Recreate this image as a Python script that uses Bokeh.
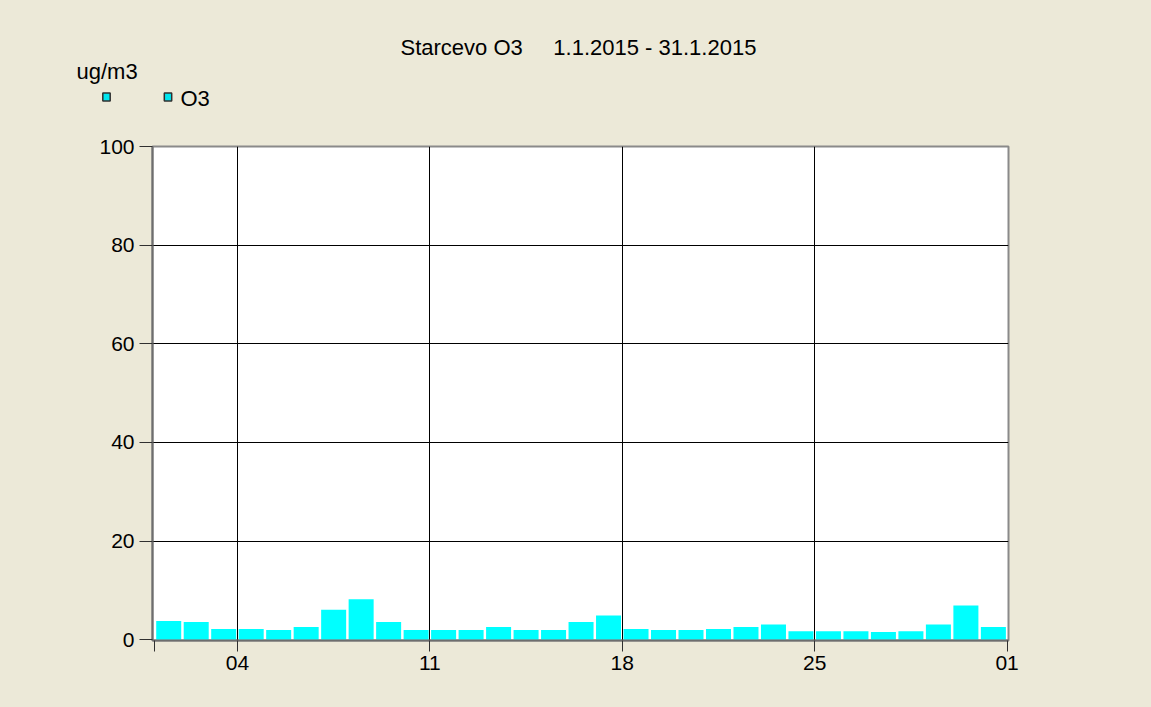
from bokeh.plotting import figure
from bokeh.models import Range1d, FixedTicker, Label
from bokeh.embed import file_html
from bokeh.resources import INLINE

# ---- data ----
days = list(range(1, 32))  # January 2015
o3 = [3.8, 3.6, 2.2, 2.2, 2.0, 2.6, 6.1, 8.2, 3.6, 2.0,
      2.0, 2.0, 2.6, 2.0, 2.0, 3.6, 4.9, 2.2, 2.0, 2.0,
      2.2, 2.6, 3.1, 1.75, 1.75, 1.75, 1.55, 1.75, 3.1, 6.95,
      2.6]
x_tick_pos = [0, 3, 10, 17, 24, 31]
x_tick_labels = ["", "04", "11", "18", "25", "01"]
y_ticks = [0, 20, 40, 60, 80, 100]
title_text = "Starcevo O3\u00a0\u00a0\u00a0\u00a0\u00a01.1.2015 - 31.1.2015"
unit_text = "ug/m3"
series_name = "O3"

# ---- style / layout ----
BG = "#ECE9D8"
FONT = "Liberation Sans"
W, H = 1151, 707
FL, FT, FW, FH = 152, 146, 856, 494  # frame in canvas px
X0, X1 = -0.09, 31.05
Y0, Y1 = -0.15, 100

def dx(px):  # canvas px -> data x
    return X0 + (px - FL) * (X1 - X0) / FW

def dy(py):  # canvas px -> data y
    return Y0 + (FT + FH - py) * (Y1 - Y0) / FH

p = figure(width=W, height=H, output_backend="svg", toolbar_location=None,
           x_range=Range1d(X0, X1), y_range=Range1d(Y0, Y1),
           min_border_left=FL, min_border_top=FT,
           min_border_right=W - FL - FW, min_border_bottom=H - FT - FH)
p.background_fill_color = "white"
p.border_fill_color = BG
p.outline_line_color = "#8a8a8a"
p.outline_line_width = 2

p.vbar(x=[d - 0.5 for d in days], width=0.91, top=o3, bottom=0,
       fill_color="#00FFFF", line_color=None)

# grids
p.xgrid.ticker = FixedTicker(ticks=x_tick_pos[1:-1])
p.ygrid.ticker = FixedTicker(ticks=y_ticks[1:-1])
for g in (p.xgrid[0], p.ygrid[0]):
    g.grid_line_color = "black"
    g.grid_line_width = 1

# axes
p.xaxis.ticker = FixedTicker(ticks=x_tick_pos)
p.xaxis.major_label_overrides = {t: l for t, l in zip(x_tick_pos, x_tick_labels)}
p.yaxis.ticker = FixedTicker(ticks=y_ticks)
for ax in (p.xaxis[0], p.yaxis[0]):
    ax.axis_line_color = "#6e6e6e"
    ax.axis_line_width = 2
    ax.major_tick_line_color = "#303030"
    ax.major_tick_in = 0
    ax.minor_tick_line_color = None
    ax.major_label_text_font = FONT
    ax.major_label_text_font_size = "21px"
    ax.major_label_text_color = "black"
p.xaxis.major_tick_out = 11
p.xaxis.major_label_standoff = 4
p.yaxis.major_tick_out = 13
p.yaxis.major_label_standoff = 5

# texts (placed in the side panel so they are not clipped to the frame)
for txt, px, py in ((title_text, 400, 47), (unit_text, 76, 71), (series_name, 180, 97.5)):
    p.add_layout(Label(x=dx(px), y=dy(py), text=txt, text_font=FONT,
                       text_font_size="22px", text_color="black",
                       text_baseline="alphabetic", text_align="left"), "above")

# legend squares (small boxed labels)
for cx in (106, 167.5):
    p.add_layout(Label(x=dx(cx), y=dy(96.5), text="\u00a0", text_font=FONT,
                       text_font_size="5px", text_align="center",
                       text_baseline="middle", padding=(3, 3, 1, 1),
                       background_fill_color="#00E5EE",
                       border_line_color="#303030", border_line_width=1.5),
                 "above")

html = file_html(p, INLINE)
html = html.replace("<head>", "<head><style>html,body{background:%s;}</style>" % BG, 1)
open("out.html", "w").write(html)
